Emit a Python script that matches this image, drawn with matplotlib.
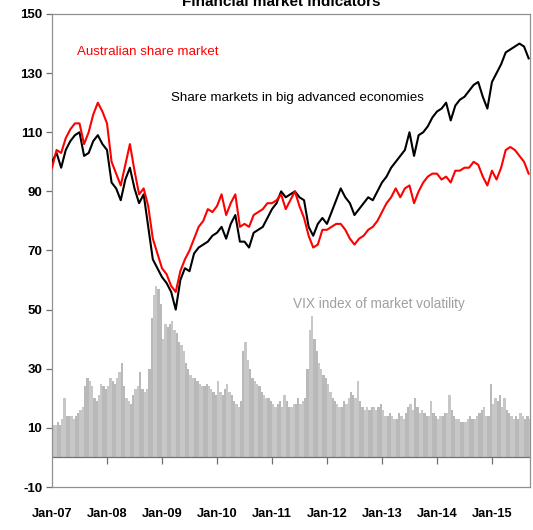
import numpy as np
import matplotlib
matplotlib.use("Agg")
import matplotlib.pyplot as plt

plt.rcParams['font.family'] = ['Liberation Sans', 'DejaVu Sans']
plt.rcParams['axes.unicode_minus'] = False

# month index 0 = Jan-07, one value per month
aus_shares = [98, 104, 103, 108, 111, 113, 113, 106, 110, 116, 120, 117,
              113, 100, 96, 92, 99, 106, 97, 89, 91, 85, 74, 69,
              64, 62, 58, 56, 63, 67, 70, 74, 78, 80, 84, 83,
              85, 89, 82, 86, 89, 78, 79, 78, 82, 83, 84, 86,
              86, 87, 89, 84, 87, 90, 85, 81, 75, 71, 72, 77,
              77, 78, 79, 79, 77, 74, 72, 74, 75, 77, 78, 80,
              83, 86, 88, 91, 88, 91, 92, 86, 90, 93, 95, 96,
              96, 94, 95, 93, 97, 97, 98, 98, 100, 99, 95, 92,
              97, 94, 98, 104, 105, 104, 102, 100, 96]

world_shares = [100, 103, 98, 104, 107, 109, 110, 102, 103, 107, 109, 106,
                104, 93, 91, 87, 94, 98, 91, 86, 89, 78, 67, 64,
                61, 59, 56, 50, 60, 64, 63, 69, 71, 72, 73, 75,
                76, 78, 74, 79, 82, 73, 73, 71, 76, 77, 78, 81,
                84, 86, 90, 88, 89, 90, 88, 87, 78, 75, 79, 81,
                79, 83, 87, 91, 88, 86, 82, 84, 86, 88, 87, 90,
                93, 95, 98, 100, 102, 104, 110, 102, 109, 110, 112, 115,
                117, 118, 120, 114, 119, 121, 122, 124, 126, 127, 122, 118,
                127, 130, 133, 137, 138, 139, 140, 139, 135]

# VIX, two readings per month
vix_2007 = [11, 11, 12, 11, 13, 20, 14, 14, 14, 13, 14, 15,
            16, 17, 24, 27, 26, 24, 20, 19, 21, 25, 24, 23]
vix_2008 = [24, 27, 26, 25, 27, 29, 32, 24, 20, 19, 18, 21,
            23, 24, 29, 23, 22, 23, 30, 47, 55, 58, 57, 52]
vix_2009 = [40, 45, 44, 45, 46, 43, 42, 39, 38, 36, 32, 30,
            28, 27, 27, 26, 25, 24, 24, 25, 24, 23, 22, 21]
vix_2010 = [26, 22, 21, 23, 25, 22, 21, 19, 18, 17, 19, 36,
            39, 33, 30, 27, 26, 25, 24, 22, 21, 20, 20, 19]
vix_2011 = [18, 17, 18, 19, 17, 21, 19, 17, 17, 18, 18, 20,
            18, 19, 20, 30, 43, 48, 40, 36, 32, 30, 28, 27]
vix_2012 = [25, 22, 20, 19, 18, 17, 17, 19, 18, 20, 22, 21,
            20, 26, 19, 17, 16, 17, 16, 17, 17, 16, 17, 18]
vix_2013 = [16, 14, 14, 15, 14, 13, 13, 15, 14, 13, 15, 17,
            18, 16, 20, 17, 15, 16, 15, 14, 14, 19, 15, 14]
vix_2014 = [13, 14, 14, 15, 15, 21, 16, 14, 13, 13, 12, 12,
            12, 13, 14, 13, 13, 14, 15, 16, 17, 14, 14, 25]
vix_2015 = [18, 20, 19, 21, 17, 20, 16, 15, 14, 13, 14, 13,
            15, 14, 13, 14, 13, 22]

year_labels = ['Jan-07', 'Jan-08', 'Jan-09', 'Jan-10', 'Jan-11',
               'Jan-12', 'Jan-13', 'Jan-14', 'Jan-15']

vix = np.array(vix_2007 + vix_2008 + vix_2009 + vix_2010 + vix_2011 +
               vix_2012 + vix_2013 + vix_2014 + vix_2015)
vix_x = np.arange(len(vix)) * 0.5
month_x = np.arange(len(aus_shares))
year_x = np.arange(len(year_labels)) * 12

fig = plt.figure(figsize=(5.33, 5.30), dpi=100)
ax = fig.add_axes([52 / 533, 43 / 530, 478 / 533, 473 / 530])

# bars, shaded alternately by month like the original
bar_cols = ['#c7c7c7' if (i // 2) % 2 == 0 else '#b9b9b9' for i in range(len(vix))]
ax.bar(vix_x, vix, width=0.5, align='edge', color=bar_cols, linewidth=0, zorder=1)

ax.plot(month_x, world_shares, color='black', lw=1.5, zorder=3)
ax.plot(month_x, aus_shares, color='#ff0000', lw=1.5, zorder=4)

ax.axhline(0, color='#707070', lw=0.9, zorder=2)
ax.vlines(year_x[1:], -2.3, 0, color='#707070', lw=0.9, zorder=2)

ax.set_xlim(0, 104.3)
ax.set_ylim(-10, 150)
ax.set_yticks(np.arange(-10, 151, 20))
ax.set_xticks(year_x)
ax.set_xticklabels(year_labels)
ax.tick_params(axis='x', length=0, pad=15, labelsize=9.3)
ax.tick_params(axis='y', length=4, width=0.9, color='#707070', pad=3, labelsize=9.5)
for lab in ax.get_xticklabels() + ax.get_yticklabels():
    lab.set_fontweight('bold')
for s in ax.spines.values():
    s.set_color('#909090')
    s.set_linewidth(0.9)

ax.text(5.5, 137, 'Australian share market', color='#ff0000', fontsize=9.6, va='center')
ax.text(26, 121.5, 'Share markets in big advanced economies', color='black', fontsize=9.6, va='center')
ax.text(52.5, 52, 'VIX index of market volatility', color='#a0a0a0', fontsize=9.8, va='center')

fig.text(281 / 533, 1 - 6 / 530, 'Financial market indicators', ha='center', va='baseline',
         fontsize=11, fontweight='bold')

fig.savefig('out.png', dpi=100)
